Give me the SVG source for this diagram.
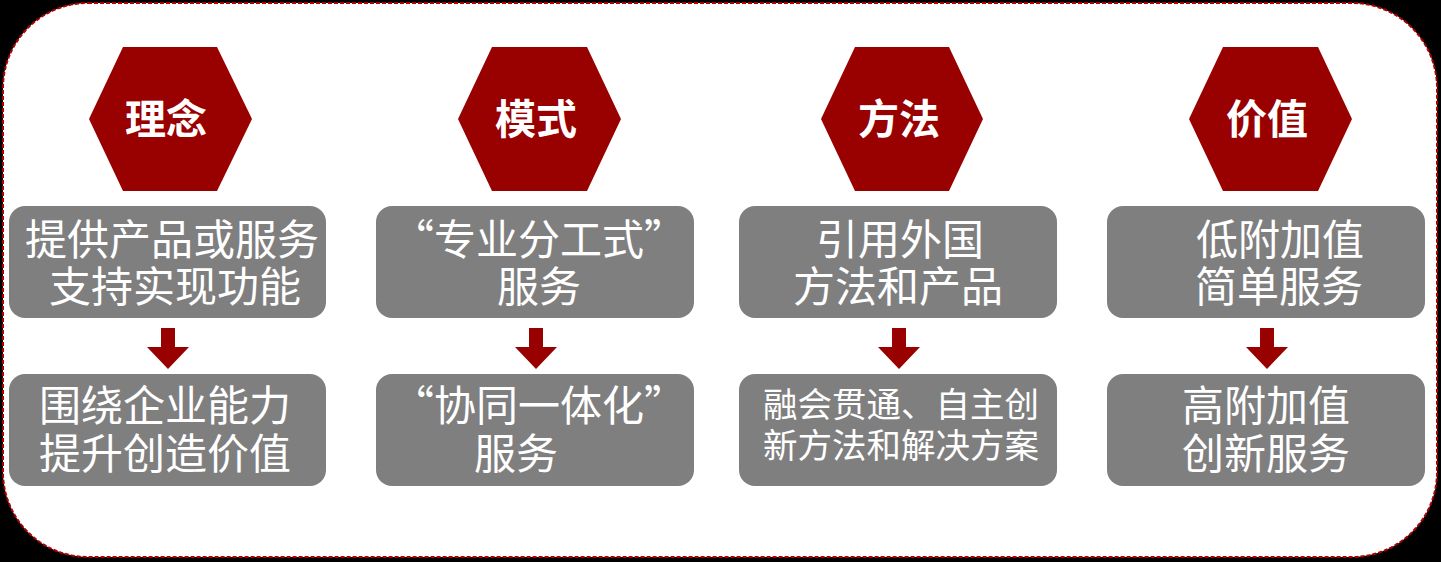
<svg xmlns="http://www.w3.org/2000/svg" width="1441" height="562" viewBox="0 0 1441 562">
<style>
.hex{fill:#990000}
.hl{font-family:"Noto Sans CJK SC","Noto Sans",sans-serif;font-weight:bold;font-size:41px;fill:#fff;text-anchor:middle}
.box{fill:#7f7f7f}
.bt{font-family:"Noto Sans CJK SC","Noto Sans",sans-serif;font-size:42px;fill:#fff;text-anchor:middle}
.sm{font-size:34.5px}
.arr{fill:#990000}
</style>
<rect x="0" y="0" width="1441" height="562" fill="#000"/>
<rect x="3" y="3" width="1434" height="554" rx="85" ry="85" fill="#fff" stroke="#b00000" stroke-width="2" stroke-dasharray="4 2"/>
<g id="hex1"><polygon class="hex" points="89,119 123,47 217,47 252,119 217,191 123,191"/><text class="hl" x="166" y="134">理念</text></g>
<g id="hex2"><polygon class="hex" points="458,119 492,47 587,47 621,119 587,191 492,191"/><text class="hl" x="536" y="134">模式</text></g>
<g id="hex3"><polygon class="hex" points="821,119 855,47 949,47 983,119 949,191 855,191"/><text class="hl" x="899" y="134">方法</text></g>
<g id="hex4"><polygon class="hex" points="1189,119 1223,47 1318,47 1352,119 1318,191 1223,191"/><text class="hl" x="1267" y="134">价值</text></g>
<g id="box1a"><rect class="box" x="9" y="206" width="317" height="112" rx="16"/><text class="bt" x="172" y="255">提供产品或服务</text><text class="bt" x="175" y="302">支持实现功能</text></g>
<g id="box2a"><rect class="box" x="376" y="206" width="318" height="112" rx="16"/><text class="bt" x="539" y="255">“专业分工式”</text><text class="bt" x="539" y="302">服务</text></g>
<g id="box3a"><rect class="box" x="739" y="206" width="318" height="112" rx="16"/><text class="bt" x="900" y="255">引用外国</text><text class="bt" x="898" y="302">方法和产品</text></g>
<g id="box4a"><rect class="box" x="1107" y="206" width="318" height="112" rx="16"/><text class="bt" x="1280" y="255">低附加值</text><text class="bt" x="1279" y="302">简单服务</text></g>
<g id="box1b"><rect class="box" x="9" y="374" width="317" height="112" rx="16"/><text class="bt" x="165" y="421">围绕企业能力</text><text class="bt" x="165" y="469">提升创造价值</text></g>
<g id="box2b"><rect class="box" x="376" y="374" width="318" height="112" rx="16"/><text class="bt" x="539" y="421">“协同一体化”</text><text class="bt" x="516" y="469">服务</text></g>
<g id="box3b"><rect class="box" x="739" y="374" width="318" height="112" rx="16"/><text class="bt sm" x="901" y="417">融会贯通、自主创</text><text class="bt sm" x="901" y="458">新方法和解决方案</text></g>
<g id="box4b"><rect class="box" x="1107" y="374" width="318" height="112" rx="16"/><text class="bt" x="1266" y="421">高附加值</text><text class="bt" x="1266" y="469">创新服务</text></g>
<g id="connectors">
<polygon class="arr" points="161,328 175,328 175,347 189,347 168,369 147,347 161,347"/>
<polygon class="arr" points="529,328 543,328 543,347 557,347 536,369 515,347 529,347"/>
<polygon class="arr" points="892,328 906,328 906,347 920,347 899,369 878,347 892,347"/>
<polygon class="arr" points="1260,328 1274,328 1274,347 1288,347 1267,369 1246,347 1260,347"/>
</g>
</svg>
